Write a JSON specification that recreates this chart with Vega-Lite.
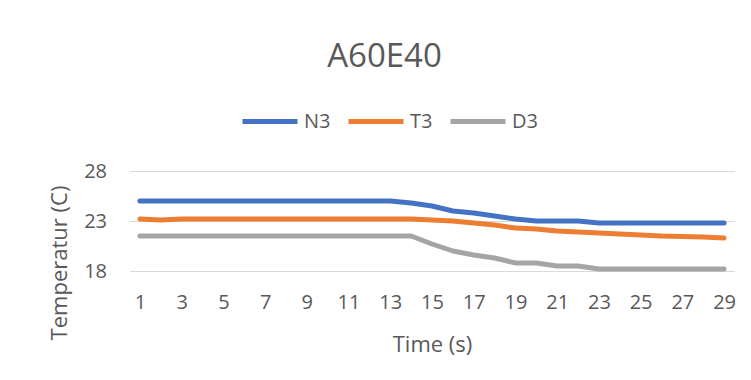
{
  "$schema": "https://vega.github.io/schema/vega-lite/v6.json",
  "autosize": {"type": "none"},
  "padding": {"left": 129.5, "top": 171, "right": 16.5, "bottom": 109},
  "width": 605,
  "height": 100,
  "background": "white",
  "config": {
    "font": "Open Sans",
    "view": {"stroke": null},
    "axis": {"labelColor": "#595959", "titleColor": "#595959", "labelFont": "Open Sans", "titleFont": "Open Sans", "titleFontWeight": "normal"},
    "legend": {"labelColor": "#595959", "labelFont": "Open Sans"},
    "title": {"color": "#595959", "font": "Open Sans", "fontWeight": "normal"}
  },
  "title": {"text": "A60E40", "fontSize": 33, "anchor": "middle", "dx": -47.5, "frame": "group", "baseline": "alphabetic", "offset": -8},
  "data": {
    "values": [
      {"t": 1, "s": "N3", "v": 25.0}, {"t": 2, "s": "N3", "v": 25.0}, {"t": 3, "s": "N3", "v": 25.0}, {"t": 4, "s": "N3", "v": 25.0}, {"t": 5, "s": "N3", "v": 25.0}, {"t": 6, "s": "N3", "v": 25.0}, {"t": 7, "s": "N3", "v": 25.0}, {"t": 8, "s": "N3", "v": 25.0}, {"t": 9, "s": "N3", "v": 25.0}, {"t": 10, "s": "N3", "v": 25.0}, {"t": 11, "s": "N3", "v": 25.0}, {"t": 12, "s": "N3", "v": 25.0}, {"t": 13, "s": "N3", "v": 25.0}, {"t": 14, "s": "N3", "v": 24.8}, {"t": 15, "s": "N3", "v": 24.5}, {"t": 16, "s": "N3", "v": 24.0}, {"t": 17, "s": "N3", "v": 23.8}, {"t": 18, "s": "N3", "v": 23.5}, {"t": 19, "s": "N3", "v": 23.2}, {"t": 20, "s": "N3", "v": 23.0}, {"t": 21, "s": "N3", "v": 23.0}, {"t": 22, "s": "N3", "v": 23.0}, {"t": 23, "s": "N3", "v": 22.8}, {"t": 24, "s": "N3", "v": 22.8}, {"t": 25, "s": "N3", "v": 22.8}, {"t": 26, "s": "N3", "v": 22.8}, {"t": 27, "s": "N3", "v": 22.8}, {"t": 28, "s": "N3", "v": 22.8}, {"t": 29, "s": "N3", "v": 22.8},
      {"t": 1, "s": "T3", "v": 23.2}, {"t": 2, "s": "T3", "v": 23.1}, {"t": 3, "s": "T3", "v": 23.2}, {"t": 4, "s": "T3", "v": 23.2}, {"t": 5, "s": "T3", "v": 23.2}, {"t": 6, "s": "T3", "v": 23.2}, {"t": 7, "s": "T3", "v": 23.2}, {"t": 8, "s": "T3", "v": 23.2}, {"t": 9, "s": "T3", "v": 23.2}, {"t": 10, "s": "T3", "v": 23.2}, {"t": 11, "s": "T3", "v": 23.2}, {"t": 12, "s": "T3", "v": 23.2}, {"t": 13, "s": "T3", "v": 23.2}, {"t": 14, "s": "T3", "v": 23.2}, {"t": 15, "s": "T3", "v": 23.1}, {"t": 16, "s": "T3", "v": 23.0}, {"t": 17, "s": "T3", "v": 22.8}, {"t": 18, "s": "T3", "v": 22.6}, {"t": 19, "s": "T3", "v": 22.3}, {"t": 20, "s": "T3", "v": 22.2}, {"t": 21, "s": "T3", "v": 22.0}, {"t": 22, "s": "T3", "v": 21.9}, {"t": 23, "s": "T3", "v": 21.8}, {"t": 24, "s": "T3", "v": 21.7}, {"t": 25, "s": "T3", "v": 21.6}, {"t": 26, "s": "T3", "v": 21.5}, {"t": 27, "s": "T3", "v": 21.45}, {"t": 28, "s": "T3", "v": 21.4}, {"t": 29, "s": "T3", "v": 21.3},
      {"t": 1, "s": "D3", "v": 21.5}, {"t": 2, "s": "D3", "v": 21.5}, {"t": 3, "s": "D3", "v": 21.5}, {"t": 4, "s": "D3", "v": 21.5}, {"t": 5, "s": "D3", "v": 21.5}, {"t": 6, "s": "D3", "v": 21.5}, {"t": 7, "s": "D3", "v": 21.5}, {"t": 8, "s": "D3", "v": 21.5}, {"t": 9, "s": "D3", "v": 21.5}, {"t": 10, "s": "D3", "v": 21.5}, {"t": 11, "s": "D3", "v": 21.5}, {"t": 12, "s": "D3", "v": 21.5}, {"t": 13, "s": "D3", "v": 21.5}, {"t": 14, "s": "D3", "v": 21.5}, {"t": 15, "s": "D3", "v": 20.7}, {"t": 16, "s": "D3", "v": 20.0}, {"t": 17, "s": "D3", "v": 19.6}, {"t": 18, "s": "D3", "v": 19.3}, {"t": 19, "s": "D3", "v": 18.8}, {"t": 20, "s": "D3", "v": 18.8}, {"t": 21, "s": "D3", "v": 18.5}, {"t": 22, "s": "D3", "v": 18.5}, {"t": 23, "s": "D3", "v": 18.2}, {"t": 24, "s": "D3", "v": 18.2}, {"t": 25, "s": "D3", "v": 18.2}, {"t": 26, "s": "D3", "v": 18.2}, {"t": 27, "s": "D3", "v": 18.2}, {"t": 28, "s": "D3", "v": 18.2}, {"t": 29, "s": "D3", "v": 18.2}
    ]
  },
  "mark": {"type": "line", "strokeWidth": 5, "strokeCap": "round", "strokeJoin": "round"},
  "encoding": {
    "x": {
      "field": "t", "type": "ordinal",
      "scale": {"type": "point", "padding": 0.5},
      "axis": {
        "title": "Time (s)", "titleFontSize": 22, "titleY": 80, "titleBaseline": "alphabetic",
        "values": [1, 3, 5, 7, 9, 11, 13, 15, 17, 19, 21, 23, 25, 27, 29],
        "labelAngle": 0, "labelFontSize": 20, "labelPadding": 21,
        "ticks": false, "domain": false, "grid": false
      }
    },
    "y": {
      "field": "v", "type": "quantitative",
      "scale": {"domain": [18, 28], "nice": false, "zero": false},
      "axis": {
        "title": "Temperatur (C)", "titleFontSize": 22, "titleX": -63.5, "titleY": 91.5, "titleBaseline": "alphabetic", "titleAngle": -90,
        "values": [18, 23, 28], "labelFontSize": 20, "labelPadding": 23,
        "ticks": false, "domain": false, "grid": true, "gridColor": "#D9D9D9", "gridWidth": 1
      }
    },
    "color": {
      "field": "s", "type": "nominal",
      "scale": {"domain": ["N3", "T3", "D3"], "range": ["#4472C4", "#ED7D31", "#A5A5A5"]},
      "legend": {
        "title": null, "orient": "none", "direction": "horizontal", "legendX": 110.5, "legendY": -79.5,
        "symbolType": "stroke", "symbolSize": 3025, "symbolStrokeWidth": 5,
        "labelFontSize": 20, "labelOffset": 4, "columnPadding": 7
      }
    }
  }
}
